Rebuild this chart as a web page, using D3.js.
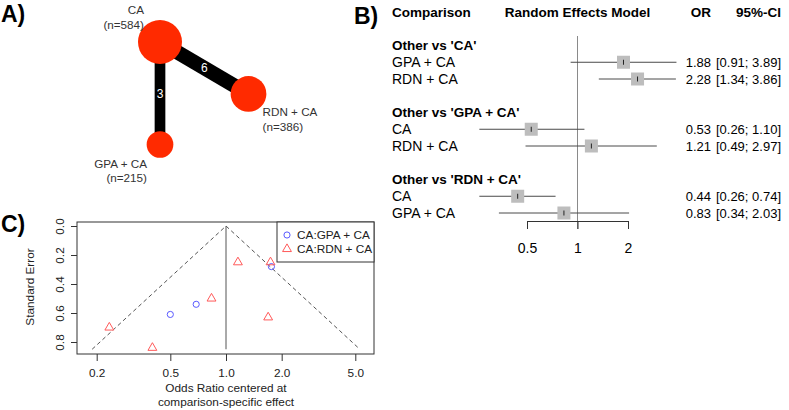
<!DOCTYPE html>
<html>
<head>
<meta charset="utf-8">
<script src="https://cdn.jsdelivr.net/npm/d3@7"></script>
<style>
  body { margin: 0; background: #fff; }
  svg { display: block; font-family: "Liberation Sans", Arial, sans-serif; }
</style>
</head>
<body>
<svg id="chart" width="789" height="410"></svg>
<script>
// A) network
var treatments = ["CA", "RDN + CA", "GPA + CA"];
var sampleSizes = [584, 386, 215];
var edgeFrom = ["CA", "CA"];
var edgeTo = ["RDN + CA", "GPA + CA"];
var edgeStudies = [6, 3];

// B) forest plot
var groupTitles = ["Other vs 'CA'", "Other vs 'GPA + CA'", "Other vs 'RDN + CA'"];
var rowLabels = [["GPA + CA", "RDN + CA"], ["CA", "RDN + CA"], ["CA", "GPA + CA"]];
var orValues = [[1.88, 2.28], [0.53, 1.21], [0.44, 0.83]];
var ciLower = [[0.91, 1.34], [0.26, 0.49], [0.26, 0.34]];
var ciUpper = [[3.89, 3.86], [1.10, 2.97], [0.74, 2.03]];
var forestTicks = [0.5, 1, 2];

// C) funnel plot
var funnelGroups = ["CA:GPA + CA", "CA:RDN + CA"];
var gpaOR = [0.50, 0.69, 1.76];
var gpaSE = [0.61, 0.54, 0.28];
var rdnOR = [0.234, 0.40, 0.835, 1.16, 1.74, 1.69];
var rdnSE = [0.70, 0.84, 0.50, 0.25, 0.25, 0.63];
var funnelXTicks = [0.2, 0.5, 1.0, 2.0, 5.0];
var funnelYTicks = [0.0, 0.2, 0.4, 0.6, 0.8];
var funnelMaxSE = 0.85;

var svg = d3.select("#chart");
var red = "#ff2a00";

// panel letters
svg.selectAll(".panel")
  .data([["A)", 1, 22], ["B)", 354, 24], ["C)", 1, 232]])
  .enter().append("text")
    .attr("x", d => d[1]).attr("y", d => d[2])
    .attr("font-size", 23).attr("font-weight", "bold")
    .text(d => d[0]);

// ---------- A) network graph
var layout = {"CA": [0, 0], "RDN + CA": [1, 0.507], "GPA + CA": [0, 1]};
var nx = d3.scaleLinear().domain([0, 1]).range([160, 248.5]);
var ny = d3.scaleLinear().domain([0, 1]).range([42, 144.5]);
var r = d3.scaleSqrt().domain([0, 584]).range([0, 22]);
var w = d3.scaleLinear().domain([3, 6]).range([10.7, 14.7]);

var net = svg.append("g");
var edges = edgeFrom.map((f, i) => ({from: f, to: edgeTo[i], n: edgeStudies[i]}));
net.selectAll("line").data(edges).enter().append("line")
  .attr("x1", d => nx(layout[d.from][0])).attr("y1", d => ny(layout[d.from][1]))
  .attr("x2", d => nx(layout[d.to][0])).attr("y2", d => ny(layout[d.to][1]))
  .attr("stroke", "#000").attr("stroke-width", d => w(d.n));

net.selectAll("circle").data(treatments).enter().append("circle")
  .attr("cx", d => nx(layout[d][0])).attr("cy", d => ny(layout[d][1]))
  .attr("r", (d, i) => r(sampleSizes[i]))
  .attr("fill", red);

net.selectAll(".elab").data(edges).enter().append("text")
  .attr("x", d => (nx(layout[d.from][0]) + nx(layout[d.to][0])) / 2)
  .attr("y", d => (ny(layout[d.from][1]) + ny(layout[d.to][1])) / 2)
  .attr("dy", "0.36em").attr("text-anchor", "middle")
  .attr("fill", "#fff").attr("font-size", 12)
  .text(d => d.n);

// node labels: anchor, offsets
var labelPos = {"CA": ["end", -16, -32], "RDN + CA": ["start", 14, 18], "GPA + CA": ["end", -13, 19]};
treatments.forEach(function(t, i) {
  var p = labelPos[t];
  var tx = svg.append("text")
    .attr("x", nx(layout[t][0]) + p[1])
    .attr("y", ny(layout[t][1]) + p[2])
    .attr("text-anchor", p[0]).attr("font-size", 11.7).attr("fill", "#333");
  tx.append("tspan").attr("x", nx(layout[t][0]) + p[1]).attr("dy", "0.36em").text(t);
  tx.append("tspan").attr("x", nx(layout[t][0]) + p[1]).attr("dy", 14.5).text("(n=" + sampleSizes[i] + ")");
});

// ---------- B) forest plot
var fx = d3.scaleLog().domain([0.5, 2]).range([527, 628]);
var rowY = d3.scaleLinear().domain([0, 12]).range([12, 213]);
var fs = 14;
var forest = svg.append("g").attr("font-size", fs);

var headers = [["Comparison", 392, "start"], ["Random Effects Model", fx(1), "middle"], ["OR", 711, "end"], ["95%-CI", 781, "end"]];
forest.selectAll(".hdr").data(headers).enter().append("text")
  .attr("x", d => d[1]).attr("y", rowY(0)).attr("dy", "0.36em")
  .attr("text-anchor", d => d[2]).attr("font-weight", "bold").attr("font-size", 13.5)
  .text(d => d[0]);

forest.append("line")
  .attr("x1", fx(1)).attr("x2", fx(1)).attr("y1", 36).attr("y2", 229)
  .attr("stroke", "#8a8a8a").attr("stroke-width", 1);

groupTitles.forEach(function(g, gi) {
  var base = 2 + gi * 4;
  forest.append("text").attr("x", 392).attr("y", rowY(base)).attr("dy", "0.36em")
    .attr("font-weight", "bold").attr("font-size", 13.5).text(g);
  rowLabels[gi].forEach(function(lab, ri) {
    var y = rowY(base + 1 + ri);
    var or = orValues[gi][ri], lo = ciLower[gi][ri], hi = ciUpper[gi][ri];
    forest.append("line").attr("x1", fx(lo)).attr("x2", fx(hi))
      .attr("y1", y).attr("y2", y).attr("stroke", "#4a4a4a").attr("stroke-width", 1);
    forest.append("rect").attr("x", fx(or) - 6.5).attr("y", y - 6.5)
      .attr("width", 13).attr("height", 13).attr("fill", "#bdbdbd");
    forest.append("line").attr("x1", fx(or)).attr("x2", fx(or))
      .attr("y1", y - 2.5).attr("y2", y + 2.5).attr("stroke", "#222");
    forest.append("text").attr("x", 392).attr("y", y).attr("dy", "0.36em").text(lab);
    forest.append("text").attr("x", 711).attr("y", y).attr("dy", "0.36em")
      .attr("text-anchor", "end").attr("font-size", 13).text(or.toFixed(2));
    forest.append("text").attr("x", 781).attr("y", y).attr("dy", "0.36em")
      .attr("text-anchor", "end").attr("font-size", 13).text("[" + lo.toFixed(2) + "; " + hi.toFixed(2) + "]");
  });
});

var fAxis = forest.append("g").attr("transform", "translate(0,221)")
  .call(d3.axisBottom(fx).tickValues(forestTicks).tickFormat(d3.format("")).tickSize(8).tickPadding(14));
fAxis.selectAll("path, line").attr("stroke", "#333");
fAxis.selectAll("text").attr("font-size", fs).attr("font-family", null).attr("fill", "#000");

// ---------- C) funnel plot
var cx = d3.scaleLog().domain([0.2, 5]).range([96.7, 355.3]);
var cy = d3.scaleLinear().domain([0, funnelMaxSE]).range([226, 349.25]);
var funnel = svg.append("g").attr("font-size", 11.8);

var z = 1.96;
var funnelLine = d3.line().x(d => cx(d[0])).y(d => cy(d[1]));
funnel.append("path")
  .attr("d", funnelLine([[Math.exp(-z * funnelMaxSE), funnelMaxSE], [1, 0], [Math.exp(z * funnelMaxSE), funnelMaxSE]]))
  .attr("fill", "none").attr("stroke", "#555").attr("stroke-dasharray", "4,3");
funnel.append("line").attr("x1", cx(1)).attr("x2", cx(1)).attr("y1", cy(0)).attr("y2", cy(funnelMaxSE))
  .attr("stroke", "#555");

var circ = d3.symbol().type(d3.symbolCircle).size(30);
var tri = d3.symbol().type(d3.symbolTriangle).size(34);
funnel.selectAll(".gpa").data(gpaOR).enter().append("path")
  .attr("d", circ).attr("transform", (d, i) => "translate(" + cx(d) + "," + cy(gpaSE[i]) + ")")
  .attr("fill", "none").attr("stroke", "#5a5aff");
funnel.selectAll(".rdn").data(rdnOR).enter().append("path")
  .attr("d", tri).attr("transform", (d, i) => "translate(" + cx(d) + "," + cy(rdnSE[i]) + ")")
  .attr("fill", "none").attr("stroke", "#ff5a5a");

funnel.append("rect").attr("x", 77).attr("y", 222).attr("width", 297).attr("height", 132)
  .attr("fill", "none").attr("stroke", "#333");

var cxAxis = funnel.append("g").attr("transform", "translate(0,354)")
  .call(d3.axisBottom(cx).tickValues(funnelXTicks).tickFormat(d3.format(".1f")).tickSize(7).tickSizeOuter(0).tickPadding(8));
var cyAxis = funnel.append("g").attr("transform", "translate(77,0)")
  .call(d3.axisLeft(cy).tickValues(funnelYTicks).tickFormat(d3.format(".1f")).tickSize(6).tickSizeOuter(0));
cyAxis.select(".domain").remove();
cxAxis.select(".domain").remove();
cyAxis.selectAll("text")
  .attr("transform", "rotate(-90)").attr("x", 0).attr("y", -17).attr("dy", "0.35em")
  .attr("text-anchor", "middle");
funnel.selectAll(".tick line").attr("stroke", "#333");
funnel.selectAll(".tick text").attr("font-size", 11.8).attr("font-family", null).attr("fill", "#222");

funnel.append("text").attr("transform", "translate(30,287) rotate(-90)")
  .attr("text-anchor", "middle").attr("dy", "0.35em").attr("fill", "#222").text("Standard Error");
funnel.append("text").attr("x", cx(1)).attr("y", 388).attr("dy", "0.35em")
  .attr("text-anchor", "middle").attr("fill", "#222").text("Odds Ratio centered at");
funnel.append("text").attr("x", cx(1)).attr("y", 402).attr("dy", "0.35em")
  .attr("text-anchor", "middle").attr("fill", "#222").text("comparison-specific effect");

// legend
var leg = funnel.append("g");
leg.append("rect").attr("x", 277).attr("y", 222).attr("width", 97).attr("height", 40)
  .attr("fill", "#fff").attr("stroke", "#333");
leg.append("path").attr("d", circ).attr("transform", "translate(287,235)")
  .attr("fill", "none").attr("stroke", "#5a5aff");
leg.append("path").attr("d", tri).attr("transform", "translate(287,249)")
  .attr("fill", "none").attr("stroke", "#ff5a5a");
leg.selectAll(".lt").data(funnelGroups).enter().append("text")
  .attr("x", 297).attr("y", (d, i) => 235 + i * 14).attr("dy", "0.35em")
  .attr("fill", "#222").text(d => d);
</script>
</body>
</html>
